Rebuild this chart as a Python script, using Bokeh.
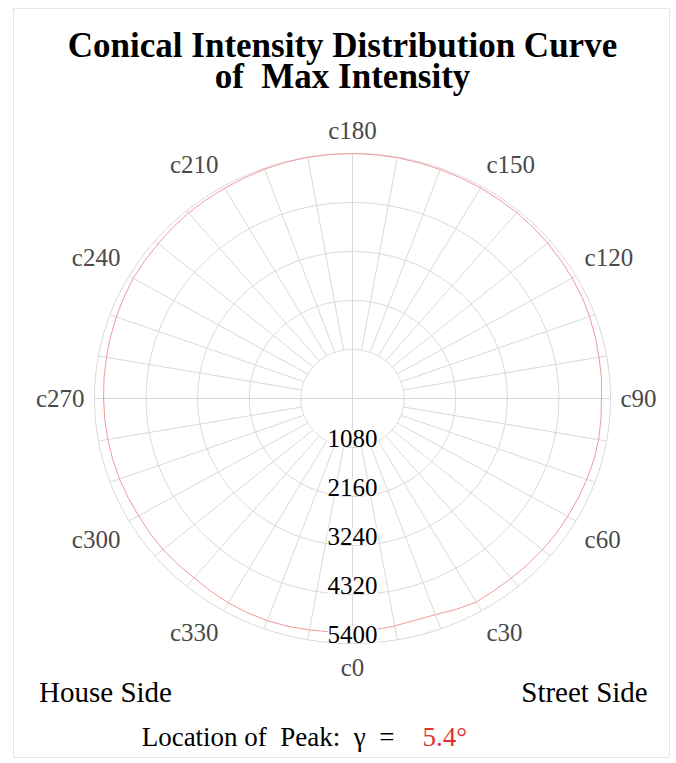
import numpy as np
from bokeh.plotting import figure
from bokeh.models import Range1d
from bokeh.core.properties import value
from bokeh.embed import file_html
from bokeh.resources import INLINE

# ---------------- data ----------------
title_lines = ["Conical Intensity Distribution Curve", "of\u00a0\u00a0Max Intensity"]
ring_values = [1080, 2160, 3240, 4320, 5400]
ring_labels = ["1080", "2160", "3240", "4320", "5400"]
c_angles = [0, 30, 60, 90, 120, 150, 180, 210, 240, 270, 300, 330]
c_labels = ["c0", "c30", "c60", "c90", "c120", "c150", "c180", "c210", "c240", "c270", "c300", "c330"]
spoke_angles = list(range(0, 360, 10))
curve_angles = list(range(0, 360, 5))
curve_values = [5150, 5120, 5090, 5060, 5070, 5130, 5180, 5170, 5170, 5180, 5190, 5200,
                5200, 5210, 5220, 5230, 5230, 5220, 5210, 5230, 5240, 5260, 5280, 5300,
                5310, 5320, 5330, 5340, 5350, 5350, 5360, 5365, 5370, 5380, 5390, 5395,
                5400, 5400, 5400, 5390, 5380, 5365, 5350, 5345, 5340, 5325, 5310, 5305,
                5300, 5280, 5260, 5245, 5230, 5220, 5210, 5205, 5200, 5195, 5190, 5180,
                5170, 5175, 5180, 5170, 5160, 5180, 5200, 5210, 5210, 5200, 5180, 5165]
side_labels = ["House Side", "Street Side"]
peak_prefix = "Location of\u00a0 Peak:\u00a0 γ\u00a0 ="
peak_value = "5.4°"

# ---------------- geometry (page-pixel data space) ----------------
CX, CY = 352.0, 398.0
KX, KY = 258.0 / 5400.0, 245.0 / 5400.0
GRID = "#d9d9d9"
SERIF = value("Liberation Serif")
LABEL_PAD = 10.0


def polar(v, ang_deg):
    a = np.radians(np.asarray(ang_deg, dtype=float))
    v = np.asarray(v, dtype=float)
    return CX + v * KX * np.sin(a), CY + v * KY * np.cos(a)


p = figure(width=672, height=760, output_backend="svg", toolbar_location=None,
           x_range=Range1d(0, 672), y_range=Range1d(760, 0),
           min_border=0)
p.axis.visible = False
p.grid.visible = False
p.outline_line_color = None
p.background_fill_color = "white"
p.border_fill_color = "white"

# chart border
p.quad(left=[13], right=[669], top=[8], bottom=[757], fill_color=None,
       line_color="#e6e6e6", line_width=1)

# rings
t = np.linspace(0, 360, 361)
ring_xs, ring_ys = [], []
for rv in ring_values:
    x, y = polar(np.full_like(t, rv), t)
    ring_xs.append(list(x))
    ring_ys.append(list(y))
p.multi_line(ring_xs, ring_ys, line_color=GRID, line_width=1)

# spokes
sp_xs, sp_ys = [], []
for a in spoke_angles:
    r0 = 0 if a % 90 == 0 else ring_values[0]
    x0, y0 = polar(r0, a)
    x1, y1 = polar(ring_values[-1], a)
    sp_xs.append([float(x0), float(x1)])
    sp_ys.append([float(y0), float(y1)])
p.multi_line(sp_xs, sp_ys, line_color=GRID, line_width=1)

# curve
cx_, cy_ = polar(curve_values + [curve_values[0]], curve_angles + [360])
p.line(cx_, cy_, line_color="#f29a9a", line_width=1)

# radial labels
lx, ly = polar(np.array(ring_values) - 200, [0] * len(ring_values))
p.text(x=lx, y=ly, text=ring_labels, text_font=SERIF, text_font_size="25px",
       text_color="black", text_align="center", text_baseline="middle",
       background_fill_color="white", background_fill_alpha=0.9)

# angle labels: anchored just outside the outer ring
groups = {}
for ang, lab in zip(c_angles, c_labels):
    rx, ry = polar(ring_values[-1], ang)
    s, c = np.sin(np.radians(ang)), np.cos(np.radians(ang))
    ax_ = float(rx + LABEL_PAD * s)
    ay_ = float(ry + LABEL_PAD * c)
    align = "left" if s > 0.01 else ("right" if s < -0.01 else "center")
    base = "top" if c > 0.01 else ("bottom" if c < -0.01 else "middle")
    g = groups.setdefault((align, base), ([], [], []))
    g[0].append(ax_)
    g[1].append(ay_)
    g[2].append(lab)
for (align, base), (gx, gy, gt) in groups.items():
    p.text(x=gx, y=gy, text=gt, text_font=SERIF, text_font_size="25px",
           text_color="#4a4a4a", text_align=align, text_baseline=base)

# title
p.text(x=[342, 342], y=[45, 76], text=title_lines, text_font=SERIF,
       text_font_size="35px", text_font_style="bold", text_color="black",
       text_align="center", text_baseline="middle")

# side labels
p.text(x=[105, 584], y=[691, 691], text=side_labels, text_font=SERIF,
       text_font_size="29px", text_color="black", text_align="center",
       text_baseline="middle")

# peak line
p.text(x=[394], y=[736], text=[peak_prefix], text_font=SERIF, text_font_size="27px",
       text_color="black", text_align="right", text_baseline="middle")
p.text(x=[422], y=[736], text=[peak_value], text_font=SERIF, text_font_size="27px",
       text_color="#e03131", text_align="left", text_baseline="middle")

open("out.html", "w").write(file_html(p, INLINE))
